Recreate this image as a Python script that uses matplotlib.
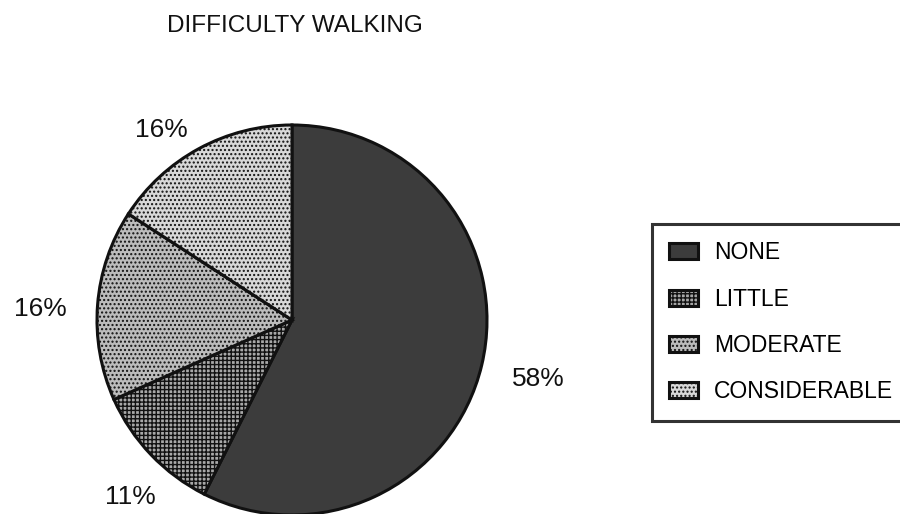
import matplotlib
matplotlib.use("Agg")
import matplotlib.pyplot as plt
import numpy as np

plt.rcParams['font.family'] = ['Liberation Sans', 'DejaVu Sans']
plt.rcParams['hatch.linewidth'] = 1.0

title = "DIFFICULTY WALKING"
categories = ["NONE", "LITTLE", "MODERATE", "CONSIDERABLE"]
values = [58, 11, 16, 16]
labels = [f"{v}%" for v in values]
colors = ["#3c3c3c", "#a8a8a8", "#bcbcbc", "#d8d8d8"]
hatches = [None, "++++", "....", "...."]
# layout: radial distance of each percentage label (pie radius = 1)
label_dist = [1.30, 1.23, 1.29, 1.18]
label_turn = [0.0, 4.0, 2.0, 6.0]  # small angular nudges, degrees

W, H = 900, 514
fig = plt.figure(figsize=(W / 100, H / 100), dpi=100)

cx, cy, r = 292, 320, 195
ax = fig.add_axes([(cx - r) / W, (H - cy - r) / H, 2 * r / W, 2 * r / H])
ax.axis('off')

wedges, texts = ax.pie(values, labels=labels, colors=colors, startangle=90,
                       counterclock=False, radius=1.0, labeldistance=1.0,
                       wedgeprops=dict(edgecolor='#111111', linewidth=2.2),
                       textprops=dict(fontsize=19, color='#111111'))
ax.set_xlim(-1, 1)
ax.set_ylim(-1, 1)
ax.set_aspect('equal')

for t, w, d, turn in zip(texts, wedges, label_dist, label_turn):
    ang = np.deg2rad((w.theta1 + w.theta2) / 2 + turn)
    t.set_position((d * np.cos(ang), d * np.sin(ang)))
    t.set_ha('center')
    t.set_va('center')
    t.set_clip_on(False)
for w, h in zip(wedges, hatches):
    w.set_clip_on(False)
    if h:
        w.set_hatch(h)

fig.text(295 / W, 1 - 26 / H, title, ha='center', va='center', fontsize=17.5,
         color='#111111')

leg = fig.legend(wedges, categories, loc='upper left',
                 bbox_to_anchor=(652 / W, 1 - 224 / H), frameon=True,
                 fancybox=False, fontsize=16.5, handlelength=1.27,
                 handleheight=0.7, handletextpad=0.7, borderpad=0.75,
                 labelspacing=1.02, borderaxespad=0)
leg.get_frame().set_edgecolor('#000000')
leg.get_frame().set_linewidth(2.2)

fig.savefig("out.png", dpi=100, facecolor='white')
